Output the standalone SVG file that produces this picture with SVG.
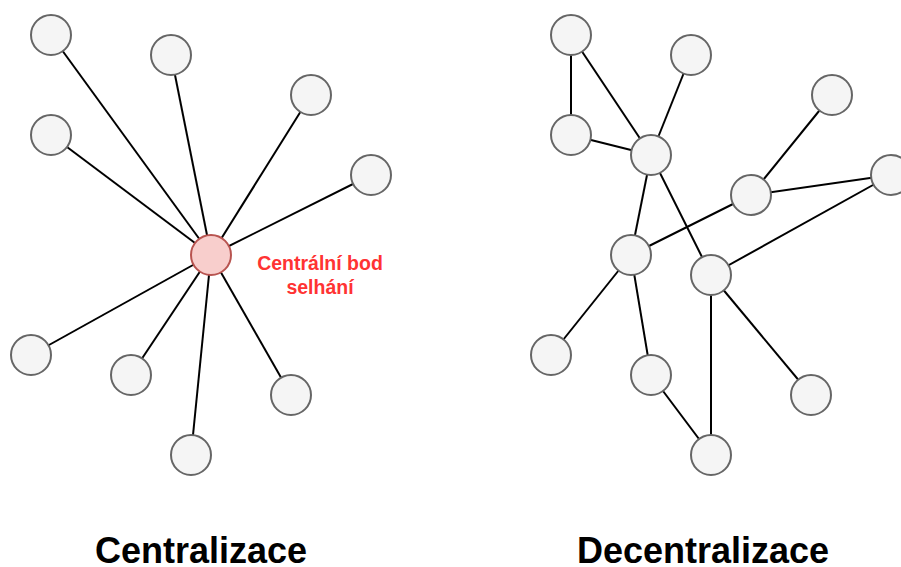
<svg xmlns="http://www.w3.org/2000/svg" width="901" height="567" viewBox="0 0 901 567">
<style>
.n{fill:#f5f5f5;stroke:#666666;stroke-width:2}
.c{fill:#f8cecc;stroke:#b85450;stroke-width:2}
.e line{stroke:#000000;stroke-width:2}
.t{font-family:"Liberation Sans",Arial,sans-serif;font-weight:bold;text-anchor:middle}
</style>
<rect width="901" height="567" fill="#ffffff"/>
<g id="connectors" class="e">
<line x1="211" y1="255" x2="51" y2="35"/>
<line x1="211" y1="255" x2="171" y2="55"/>
<line x1="211" y1="255" x2="311" y2="95"/>
<line x1="211" y1="255" x2="51" y2="135"/>
<line x1="211" y1="255" x2="371" y2="175"/>
<line x1="211" y1="255" x2="31" y2="355"/>
<line x1="211" y1="255" x2="131" y2="375"/>
<line x1="211" y1="255" x2="291" y2="395"/>
<line x1="211" y1="255" x2="191" y2="455"/>
<line x1="571" y1="35" x2="571" y2="135"/>
<line x1="571" y1="35" x2="651" y2="155"/>
<line x1="691" y1="55" x2="651" y2="155"/>
<line x1="571" y1="135" x2="651" y2="155"/>
<line x1="651" y1="155" x2="631" y2="255"/>
<line x1="651" y1="155" x2="711" y2="275"/>
<line x1="832" y1="95" x2="751" y2="195"/>
<line x1="751" y1="195" x2="891" y2="175"/>
<line x1="751" y1="195" x2="631" y2="255"/>
<line x1="891" y1="175" x2="711" y2="275"/>
<line x1="631" y1="255" x2="551" y2="355"/>
<line x1="631" y1="255" x2="651" y2="375"/>
<line x1="651" y1="375" x2="711" y2="455"/>
<line x1="711" y1="275" x2="711" y2="455"/>
<line x1="711" y1="275" x2="811" y2="395"/>
</g>
<g id="c1"><circle class="n" cx="51" cy="35" r="20"/></g>
<g id="c2"><circle class="n" cx="171" cy="55" r="20"/></g>
<g id="c3"><circle class="n" cx="311" cy="95" r="20"/></g>
<g id="c4"><circle class="n" cx="51" cy="135" r="20"/></g>
<g id="c5"><circle class="n" cx="371" cy="175" r="20"/></g>
<g id="c-center"><circle class="c" cx="211" cy="255" r="20"/></g>
<g id="c6"><circle class="n" cx="31" cy="355" r="20"/></g>
<g id="c7"><circle class="n" cx="131" cy="375" r="20"/></g>
<g id="c8"><circle class="n" cx="291" cy="395" r="20"/></g>
<g id="c9"><circle class="n" cx="191" cy="455" r="20"/></g>
<g id="d1"><circle class="n" cx="571" cy="35" r="20"/></g>
<g id="d2"><circle class="n" cx="691" cy="55" r="20"/></g>
<g id="d3"><circle class="n" cx="832" cy="95" r="20"/></g>
<g id="d4"><circle class="n" cx="571" cy="135" r="20"/></g>
<g id="d5"><circle class="n" cx="651" cy="155" r="20"/></g>
<g id="d6"><circle class="n" cx="891" cy="175" r="20"/></g>
<g id="d7"><circle class="n" cx="751" cy="195" r="20"/></g>
<g id="d8"><circle class="n" cx="631" cy="255" r="20"/></g>
<g id="d9"><circle class="n" cx="711" cy="275" r="20"/></g>
<g id="d10"><circle class="n" cx="551" cy="355" r="20"/></g>
<g id="d11"><circle class="n" cx="651" cy="375" r="20"/></g>
<g id="d12"><circle class="n" cx="811" cy="395" r="20"/></g>
<g id="d13"><circle class="n" cx="711" cy="455" r="20"/></g>
<g id="label-spof"><text class="t" x="320" y="270" font-size="19.5" fill="#ff3333">Centrální bod</text><text class="t" x="320" y="294" font-size="19.5" fill="#ff3333">selhání</text></g>
<g id="title-left"><text class="t" x="201" y="563" font-size="36" fill="#000000">Centralizace</text></g>
<g id="title-right"><text class="t" x="703" y="563" font-size="36" fill="#000000">Decentralizace</text></g>
</svg>
